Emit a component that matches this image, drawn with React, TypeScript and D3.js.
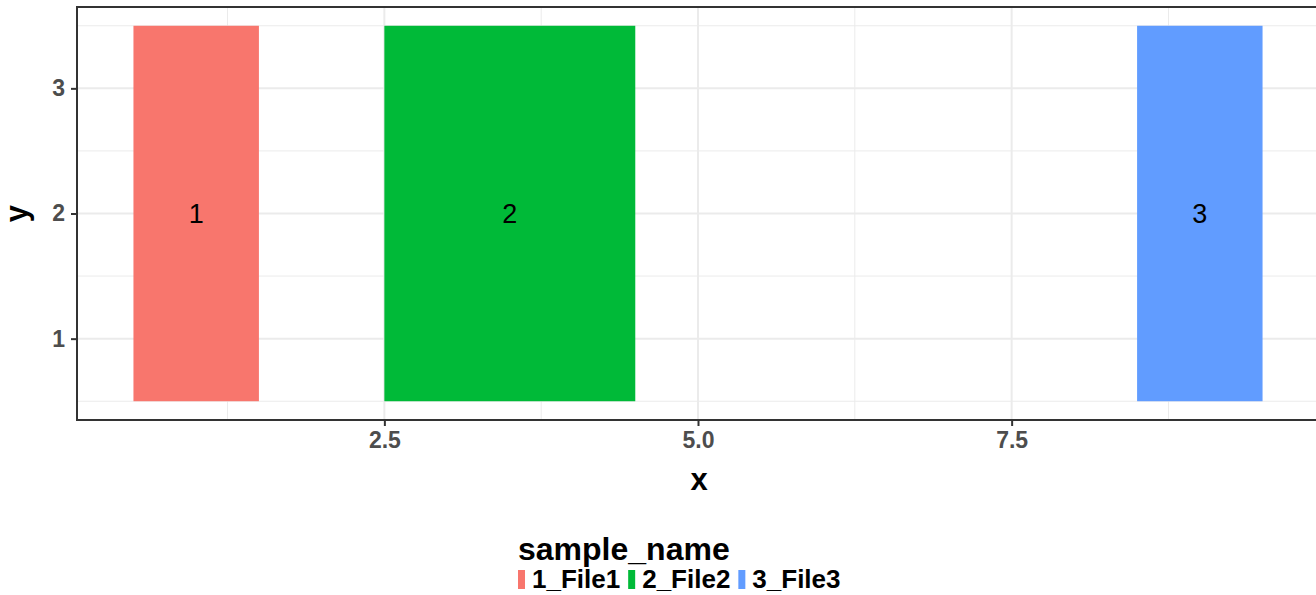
import { useEffect, useRef } from 'react';
import * as d3 from 'd3';

const sampleNames = ['1_File1', '2_File2', '3_File3'];
const tileLabels = ['1', '2', '3'];
const xMin = [0.5, 2.5, 8.5];
const xMax = [1.5, 4.5, 9.5];
const yMin = [0.5, 0.5, 0.5];
const yMax = [3.5, 3.5, 3.5];
const COLORS = ['#F8766D', '#00BA38', '#619CFF'];

const xMajor = [2.5, 5.0, 7.5];
const xMinor = [1.25, 3.75, 6.25, 8.75];
const yMajor = [1, 2, 3];
const yMinorTicks = [0.5, 1.5, 2.5, 3.5];

const WIDTH = 1316;
const HEIGHT = 595;
const FONT = '"Liberation Sans", Arial, Helvetica, sans-serif';

export default function App() {
  const svgRef = useRef<SVGSVGElement>(null);

  useEffect(() => {
    if (!svgRef.current) return;
    const svg = d3.select(svgRef.current);
    svg.selectAll('*').remove();

    // panel box (right edge runs past the window)
    const panel = { left: 77, top: 7, right: 1319, bottom: 420 };

    const x = d3.scaleLinear().domain([0.05, 9.95]).range([panel.left, panel.right]);
    const y = d3.scaleLinear().domain([0.35, 3.65]).range([panel.bottom, panel.top]);

    const g = svg.append('g');

    g.append('rect')
      .attr('x', panel.left)
      .attr('y', panel.top)
      .attr('width', panel.right - panel.left)
      .attr('height', panel.bottom - panel.top)
      .attr('fill', '#fff');

    // minor grid
    xMinor.forEach(v => {
      g.append('line')
        .attr('x1', x(v)).attr('x2', x(v))
        .attr('y1', panel.top).attr('y2', panel.bottom)
        .attr('stroke', '#EBEBEB').attr('stroke-width', 1);
    });
    yMinorTicks.forEach(v => {
      g.append('line')
        .attr('x1', panel.left).attr('x2', panel.right)
        .attr('y1', y(v)).attr('y2', y(v))
        .attr('stroke', '#EBEBEB').attr('stroke-width', 1);
    });
    // major grid
    xMajor.forEach(v => {
      g.append('line')
        .attr('x1', x(v)).attr('x2', x(v))
        .attr('y1', panel.top).attr('y2', panel.bottom)
        .attr('stroke', '#EBEBEB').attr('stroke-width', 2);
    });
    yMajor.forEach(v => {
      g.append('line')
        .attr('x1', panel.left).attr('x2', panel.right)
        .attr('y1', y(v)).attr('y2', y(v))
        .attr('stroke', '#EBEBEB').attr('stroke-width', 2);
    });

    // tiles
    sampleNames.forEach((_, i) => {
      g.append('rect')
        .attr('x', x(xMin[i]))
        .attr('y', y(yMax[i]))
        .attr('width', x(xMax[i]) - x(xMin[i]))
        .attr('height', y(yMin[i]) - y(yMax[i]))
        .attr('fill', COLORS[i]);
      g.append('text')
        .attr('x', x((xMin[i] + xMax[i]) / 2))
        .attr('y', y((yMin[i] + yMax[i]) / 2))
        .attr('dy', '0.36em')
        .attr('text-anchor', 'middle')
        .attr('font-family', FONT)
        .attr('font-size', 27)
        .attr('fill', '#000')
        .text(tileLabels[i]);
    });

    // panel border
    g.append('rect')
      .attr('x', panel.left)
      .attr('y', panel.top)
      .attr('width', panel.right - panel.left)
      .attr('height', panel.bottom - panel.top)
      .attr('fill', 'none')
      .attr('stroke', '#333333')
      .attr('stroke-width', 2);

    // axes
    const xAxis = d3.axisBottom(x)
      .tickValues(xMajor)
      .tickSize(6)
      .tickPadding(6)
      .tickFormat(d => Number(d).toFixed(1));
    const xg = g.append('g')
      .attr('transform', `translate(0,${panel.bottom})`)
      .call(xAxis);
    xg.select('.domain').remove();
    xg.selectAll('line').attr('stroke', '#333333').attr('stroke-width', 2);
    xg.selectAll('text')
      .attr('font-family', FONT)
      .attr('font-size', 23)
      .attr('font-weight', 'bold')
      .attr('fill', '#4D4D4D');

    const yAxis = d3.axisLeft(y)
      .tickValues(yMajor)
      .tickSize(6)
      .tickPadding(6)
      .tickFormat(d => String(d));
    const yg = g.append('g')
      .attr('transform', `translate(${panel.left},0)`)
      .call(yAxis);
    yg.select('.domain').remove();
    yg.selectAll('line').attr('stroke', '#333333').attr('stroke-width', 2);
    yg.selectAll('text')
      .attr('font-family', FONT)
      .attr('font-size', 23)
      .attr('font-weight', 'bold')
      .attr('fill', '#4D4D4D');

    // axis titles
    g.append('text')
      .attr('x', 699)
      .attr('y', 490)
      .attr('text-anchor', 'middle')
      .attr('font-family', FONT)
      .attr('font-size', 31)
      .attr('font-weight', 'bold')
      .attr('fill', '#000')
      .text('x');

    g.append('text')
      .attr('transform', `translate(27,${(panel.top + panel.bottom) / 2}) rotate(-90)`)
      .attr('text-anchor', 'middle')
      .attr('font-family', FONT)
      .attr('font-size', 31)
      .attr('font-weight', 'bold')
      .attr('fill', '#000')
      .text('y');

    // legend
    const legend = g.append('g').attr('transform', 'translate(518,0)');
    legend.append('text')
      .attr('x', 0)
      .attr('y', 560)
      .attr('font-family', FONT)
      .attr('font-size', 32)
      .attr('font-weight', 'bold')
      .attr('fill', '#000')
      .text('sample_name');

    let cursor = 0;
    sampleNames.forEach((name, i) => {
      legend.append('rect')
        .attr('x', cursor)
        .attr('y', 570)
        .attr('width', 7)
        .attr('height', 19)
        .attr('fill', COLORS[i]);
      const t = legend.append('text')
        .attr('x', cursor + 14)
        .attr('y', 588)
        .attr('font-family', FONT)
        .attr('font-size', 26)
        .attr('font-weight', 'bold')
        .attr('fill', '#000')
        .text(name);
      const w = (t.node() as SVGTextElement).getComputedTextLength();
      cursor += 14 + w + 8;
    });
  }, []);

  return (
    <svg
      ref={svgRef}
      width={WIDTH}
      height={HEIGHT}
      style={{ position: 'fixed', left: 0, top: 0, display: 'block', background: '#fff' }}
    />
  );
}
